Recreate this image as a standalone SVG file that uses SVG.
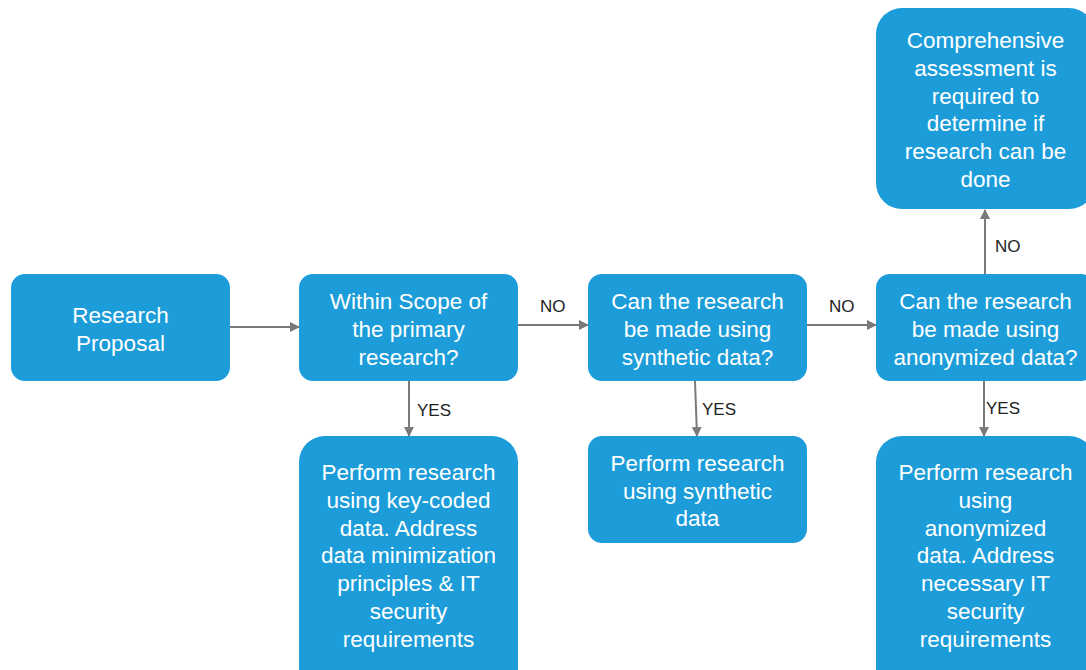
<svg xmlns="http://www.w3.org/2000/svg" width="1086" height="670" viewBox="0 0 1086 670">
<defs>
<style>
.box{fill:#1c9dd9;}
.t{font-family:"Liberation Sans",Arial,sans-serif;font-size:22.5px;fill:#ffffff;text-anchor:middle;}
.lbl{font-family:"Liberation Sans",Arial,sans-serif;font-size:17px;fill:#222222;}
.c{stroke:#7a7a7a;stroke-width:2;fill:none;marker-end:url(#ah);}
</style>
<marker id="ah" viewBox="0 0 10 10" refX="9" refY="5" markerWidth="5" markerHeight="5" orient="auto" markerUnits="strokeWidth">
<path d="M0,0 L10,5 L0,10 z" fill="#7a7a7a"/>
</marker>
</defs>
<rect width="1086" height="670" fill="#ffffff"/>
<g id="connectors">
<line class="c" x1="230" y1="327" x2="299" y2="327"/>
<line class="c" x1="518" y1="325" x2="588" y2="325"/>
<line class="c" x1="807" y1="325" x2="876" y2="325"/>
<line class="c" x1="985" y1="274" x2="985" y2="210"/>
<line class="c" x1="409" y1="381" x2="409" y2="436"/>
<line class="c" x1="695" y1="381" x2="697" y2="436"/>
<line class="c" x1="984" y1="381" x2="984" y2="436"/>
<text class="lbl" x="540" y="312">NO</text>
<text class="lbl" x="829" y="312">NO</text>
<text class="lbl" x="995" y="252">NO</text>
<text class="lbl" x="417" y="416">YES</text>
<text class="lbl" x="702" y="415">YES</text>
<text class="lbl" x="986" y="414">YES</text>
</g>
<g id="n-proposal">
<rect class="box" x="11" y="274" width="219" height="107" rx="14"/>
<text class="t" x="120.5" y="323">Research</text>
<text class="t" x="120.5" y="351">Proposal</text>
</g>
<g id="n-scope">
<rect class="box" x="299" y="274" width="219" height="107" rx="14"/>
<text class="t" x="408.5" y="309">Within Scope of</text>
<text class="t" x="408.5" y="337">the primary</text>
<text class="t" x="408.5" y="365">research?</text>
</g>
<g id="n-synthetic">
<rect class="box" x="588" y="274" width="219" height="107" rx="14"/>
<text class="t" x="697.5" y="309">Can the research</text>
<text class="t" x="697.5" y="337">be made using</text>
<text class="t" x="697.5" y="365">synthetic data?</text>
</g>
<g id="n-anonymized">
<rect class="box" x="876" y="274" width="219" height="107" rx="14"/>
<text class="t" x="985.5" y="309">Can the research</text>
<text class="t" x="985.5" y="337">be made using</text>
<text class="t" x="985.5" y="365">anonymized data?</text>
</g>
<g id="n-comprehensive">
<rect class="box" x="876" y="8" width="219" height="201" rx="26"/>
<text class="t" x="985.5" y="48">Comprehensive</text>
<text class="t" x="985.5" y="76">assessment is</text>
<text class="t" x="985.5" y="104">required to</text>
<text class="t" x="985.5" y="131">determine if</text>
<text class="t" x="985.5" y="159">research can be</text>
<text class="t" x="985.5" y="187">done</text>
</g>
<g id="n-keycoded">
<rect class="box" x="299" y="436" width="219" height="260" rx="26"/>
<text class="t" x="408.5" y="480">Perform research</text>
<text class="t" x="408.5" y="508">using key-coded</text>
<text class="t" x="408.5" y="536">data. Address</text>
<text class="t" x="408.5" y="563">data minimization</text>
<text class="t" x="408.5" y="591">principles &amp; IT</text>
<text class="t" x="408.5" y="619">security</text>
<text class="t" x="408.5" y="647">requirements</text>
</g>
<g id="n-synthetic-perform">
<rect class="box" x="588" y="436" width="219" height="107" rx="14"/>
<text class="t" x="697.5" y="471">Perform research</text>
<text class="t" x="697.5" y="499">using synthetic</text>
<text class="t" x="697.5" y="526">data</text>
</g>
<g id="n-anonymized-perform">
<rect class="box" x="876" y="436" width="219" height="260" rx="26"/>
<text class="t" x="985.5" y="480">Perform research</text>
<text class="t" x="985.5" y="508">using</text>
<text class="t" x="985.5" y="536">anonymized</text>
<text class="t" x="985.5" y="563">data. Address</text>
<text class="t" x="985.5" y="591">necessary IT</text>
<text class="t" x="985.5" y="619">security</text>
<text class="t" x="985.5" y="647">requirements</text>
</g>
</svg>
